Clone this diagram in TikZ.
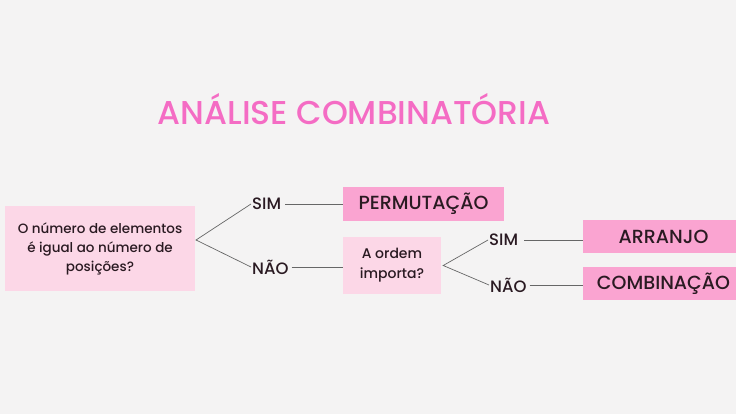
\documentclass[tikz,border=0pt]{standalone}
\usepackage{fontspec}
\setmainfont{Poppins Medium}
\usetikzlibrary{positioning}
\definecolor{paper}{HTML}{F4F3F3}
\definecolor{titlepink}{HTML}{F46CC4}
\definecolor{softpink}{HTML}{FCD7E7}
\definecolor{hotpink}{HTML}{FAA4D1}
\definecolor{ink}{HTML}{2A1A22}
\tikzset{
  question/.style={fill=softpink, text=ink, align=center, inner sep=0pt},
  answer/.style={fill=hotpink, text=ink, inner sep=0pt, font=\fontsize{19}{22}\selectfont},
  choice/.style={text=ink, inner sep=1pt, font=\fontsize{16.5}{18}\selectfont},
  branch/.style={draw=black!60, line width=0.7pt}
}
\begin{document}
\begin{tikzpicture}[x=1pt,y=-1pt]
\fill[paper] (0,0) rectangle (736,414);
\useasboundingbox (0,0) rectangle (736,414);
\node[text=titlepink, font=\fontsize{33}{36}\selectfont] (title) at (354,109) {ANÁLISE COMBINATÓRIA};
% first question
\node[question, minimum width=190pt, minimum height=85pt, font=\fontsize{13.5}{19}\selectfont] (elem) at (100,248.5) {O número de elementos\\é igual ao número de\\posições?};
\coordinate (fork1) at (196,240);
\node[choice, anchor=west] (sim1) at (251,204) {SIM};
\node[choice, anchor=west] (nao1) at (251,267) {NÃO};
\node[answer, minimum width=161pt, minimum height=34pt] (perm) at (423.5,204) {PERMUTAÇÃO};
% second question
\node[question, minimum width=98pt, minimum height=57pt, font=\fontsize{14}{20}\selectfont] (ordem) at (392,265.5) {A ordem\\importa?};
\node[choice, anchor=west] (sim2) at (488,240) {SIM};
\node[choice, anchor=west] (nao2) at (489,285) {NÃO};
\node[answer, minimum width=161pt, minimum height=33pt] (arr) at (663.5,236.5) {ARRANJO};
\node[answer, minimum width=161pt, minimum height=33pt] (comb) at (663.5,283.5) {COMBINAÇÃO};
% connectors
\draw[branch] (sim1.west) -- (fork1) -- (nao1.west);
\draw[branch] (sim1.east) ++(3,0) -- (perm.west |- sim1.east);
\draw[branch] (nao1.east) ++(2,0) -- (ordem.west |- nao1.east);
\draw[branch] (sim2.west) -- ([xshift=2pt]ordem.east) -- (nao2.west);
\draw[branch] (sim2.east) ++(5,0) -- (arr.west |- sim2.east);
\draw[branch] (nao2.east) ++(2,0) -- (comb.west |- nao2.east);
\end{tikzpicture}
\end{document}
